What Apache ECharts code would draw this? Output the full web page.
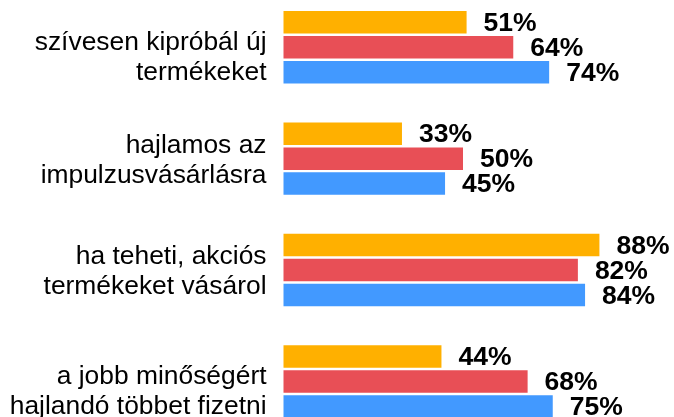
<!DOCTYPE html>
<html>
<head>
<meta charset="utf-8">
<script src="https://cdn.jsdelivr.net/npm/echarts@6/dist/echarts.min.js"></script>
<style>
html,body{margin:0;padding:0;background:#fff;}
#c{width:674px;height:417px;}
</style>
</head>
<body>
<div id="c"></div>
<script>
const categories = [
  'szívesen kipróbál új\ntermékeket',
  'hajlamos az\nimpulzusvásárlásra',
  'ha teheti, akciós\ntermékeket vásárol',
  'a jobb minőségért\nhajlandó többet fizetni'
];
const seriesOrange = [51, 33, 88, 44];
const seriesRed = [64, 50, 82, 68];
const seriesBlue = [74, 45, 84, 75];
const labelSpacer = ['s1', 's0', 's0', 's1'];

const chart = echarts.init(document.getElementById('c'), null, {renderer: 'canvas'});
const labelStyle = {
  show: true,
  position: 'right',
  distance: 17,
  formatter: '{c}%',
  fontFamily: 'Liberation Sans, Arial, sans-serif',
  fontWeight: 'bold',
  fontSize: 26.5,
  color: '#000',
  offset: [0, 1.5]
};
function mk(name, data, color) {
  return {
    name: name,
    type: 'bar',
    data: data,
    barWidth: 22.5,
    barGap: '11%',
    itemStyle: {color: color},
    label: labelStyle,
    animation: false
  };
}
const txt = {fontFamily: 'Liberation Sans, Arial, sans-serif', fontSize: 26.4, lineHeight: 30, color: '#000', align: 'right'};
chart.setOption({
  animation: false,
  grid: {left: 283.5, top: -8.5, width: 359, height: 445.7, outerBoundsMode: 'none', containLabel: false},
  xAxis: {
    type: 'value', min: 0, max: 100, show: false
  },
  yAxis: {
    type: 'category',
    inverse: true,
    data: categories,
    axisLine: {show: false},
    axisTick: {show: false},
    splitLine: {show: false},
    axisLabel: {
      margin: 17,
      fontFamily: 'Liberation Sans, Arial, sans-serif',
      fontSize: 26.4,
      color: '#000',
      align: 'right',
      formatter: function (v, i) {
        const lines = v.split('\n').map(l => '{t|' + l + '}');
        return '{' + labelSpacer[i] + '| }\n' + lines.join('\n');
      },
      rich: {
        t: txt,
        s0: {height: 4, lineHeight: 4, fontSize: 1},
        s1: {height: 21, lineHeight: 21, fontSize: 1}
      }
    }
  },
  series: [
    mk('a', seriesOrange, '#FFB000'),
    mk('b', seriesRed, '#E84F56'),
    mk('c', seriesBlue, '#4299FF')
  ]
});
</script>
</body>
</html>
